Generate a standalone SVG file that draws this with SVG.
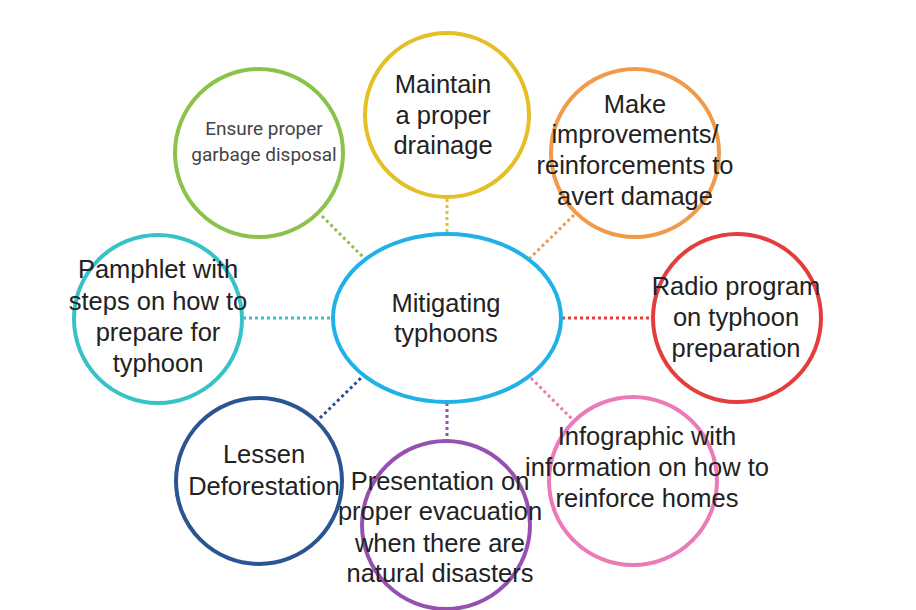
<svg xmlns="http://www.w3.org/2000/svg" width="916" height="610" viewBox="0 0 916 610">
<style>
.n{fill:#fff;stroke-width:4}
.t{font-family:"Liberation Sans",Arial,sans-serif;font-size:25.5px;fill:#222;text-anchor:middle}
.s{font-family:Roboto,"Liberation Sans",sans-serif;font-size:19px;fill:#444;text-anchor:middle}
.c{stroke-width:3;stroke-dasharray:3 3;fill:none}
</style>
<rect width="916" height="610" fill="#fff"/>
<g id="connectors">
<line class="c" stroke="#8bc34a" x1="322" y1="216" x2="364" y2="258"/>
<line class="c" stroke="#e4bf26" x1="447" y1="199" x2="447" y2="234"/>
<line class="c" stroke="#f29a4a" x1="574" y1="215" x2="530" y2="258"/>
<line class="c" stroke="#e53d3d" x1="562" y1="318" x2="652" y2="318"/>
<line class="c" stroke="#ec7ab8" x1="531" y1="378" x2="573" y2="420"/>
<line class="c" stroke="#9550b0" x1="447" y1="403" x2="447" y2="440"/>
<line class="c" stroke="#2a5592" x1="320" y1="418" x2="362" y2="377"/>
<line class="c" stroke="#38c2c8" x1="243" y1="318" x2="333" y2="318"/>
</g>
<g id="center">
<ellipse class="n" stroke="#1fb1e8" cx="447" cy="318" rx="114" ry="84" stroke-width="4.5"/>
<text class="t" x="446" y="312">Mitigating</text>
<text class="t" x="446" y="342">typhoons</text>
</g>
<g id="garbage">
<circle class="n" stroke="#8bc34a" cx="259" cy="153" r="84"/>
<text class="s" x="264" y="135">Ensure proper</text>
<text class="s" x="264" y="161">garbage disposal</text>
</g>
<g id="drainage">
<circle class="n" stroke="#e4bf26" cx="447" cy="115" r="82"/>
<text class="t" x="443" y="93">Maintain</text>
<text class="t" x="443" y="124">a proper</text>
<text class="t" x="443" y="154">drainage</text>
</g>
<g id="improvements">
<circle class="n" stroke="#f29a4a" cx="635" cy="153" r="84"/>
<text class="t" x="635" y="113">Make</text>
<text class="t" x="635" y="143">improvements/</text>
<text class="t" x="635" y="174">reinforcements to</text>
<text class="t" x="635" y="205">avert damage</text>
</g>
<g id="radio">
<circle class="n" stroke="#e53d3d" cx="737" cy="318" r="84"/>
<text class="t" x="736" y="295">Radio program</text>
<text class="t" x="736" y="326">on typhoon</text>
<text class="t" x="736" y="357">preparation</text>
</g>
<g id="infographic">
<circle class="n" stroke="#ec7ab8" cx="633" cy="481" r="84"/>
<text class="t" x="647" y="445">Infographic with</text>
<text class="t" x="647" y="476">information on how to</text>
<text class="t" x="647" y="507">reinforce homes</text>
</g>
<g id="presentation">
<circle class="n" stroke="#9550b0" cx="446" cy="525" r="84"/>
<text class="t" x="440" y="490">Presentation on</text>
<text class="t" x="440" y="520">proper evacuation</text>
<text class="t" x="440" y="552">when there are</text>
<text class="t" x="440" y="582">natural disasters</text>
</g>
<g id="deforestation">
<circle class="n" stroke="#2a5592" cx="259" cy="481" r="83"/>
<text class="t" x="264" y="463">Lessen</text>
<text class="t" x="264" y="495">Deforestation</text>
</g>
<g id="pamphlet">
<circle class="n" stroke="#38c2c8" cx="158" cy="319" r="84"/>
<text class="t" x="158" y="278">Pamphlet with</text>
<text class="t" x="158" y="310">steps on how to</text>
<text class="t" x="158" y="341">prepare for</text>
<text class="t" x="158" y="372">typhoon</text>
</g>
</svg>
